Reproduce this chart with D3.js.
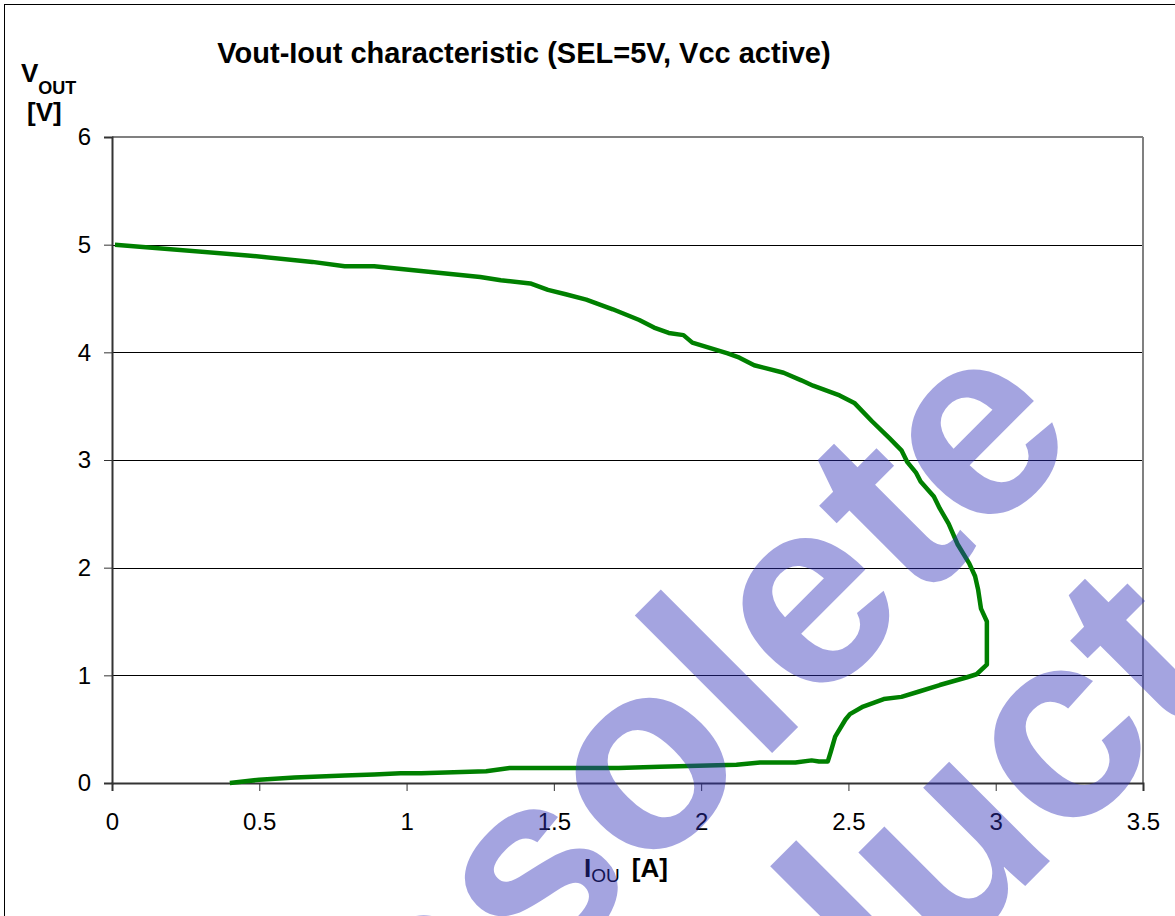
<!DOCTYPE html>
<html>
<head>
<meta charset="utf-8">
<script src="https://cdn.jsdelivr.net/npm/d3@7"></script>
<style>
  body { margin: 0; background: #fff; }
  svg { display: block; font-family: "Liberation Sans", Arial, sans-serif; }
</style>
</head>
<body>
<div class="chart"></div>
<script>
// data: output current [A] and output voltage [V]
var iout = [0.01, 0.46, 0.68, 0.79, 0.89, 1.25, 1.32, 1.42, 1.48, 1.54, 1.61, 1.70, 1.79, 1.84, 1.89, 1.94, 1.97,
    2.09, 2.13, 2.18, 2.28, 2.34, 2.38, 2.47, 2.52, 2.58, 2.64, 2.68, 2.70, 2.73, 2.745, 2.79, 2.81, 2.84, 2.87,
    2.91, 2.93, 2.94, 2.95, 2.97, 2.97, 2.935, 2.90, 2.81, 2.74, 2.68, 2.62, 2.55, 2.505, 2.49, 2.455, 2.44, 2.43,
    2.40, 2.375, 2.32, 2.20, 2.12, 1.86, 1.72, 1.35, 1.27, 1.05, 0.98, 0.89, 0.79, 0.62, 0.50, 0.40];
var vout = [5.00, 4.90, 4.84, 4.80, 4.80, 4.70, 4.67, 4.64, 4.58, 4.54, 4.49, 4.40, 4.30, 4.23, 4.18, 4.16, 4.09,
    3.99, 3.95, 3.88, 3.81, 3.74, 3.69, 3.60, 3.53, 3.36, 3.20, 3.09, 2.98, 2.88, 2.80, 2.66, 2.55, 2.41, 2.22,
    2.04, 1.92, 1.80, 1.62, 1.50, 1.10, 1.01, 0.98, 0.91, 0.85, 0.80, 0.78, 0.71, 0.64, 0.59, 0.43, 0.29, 0.20,
    0.20, 0.21, 0.19, 0.19, 0.17, 0.15, 0.14, 0.14, 0.11, 0.09, 0.09, 0.08, 0.07, 0.05, 0.03, 0.00];

var xTicks = [0, 0.5, 1, 1.5, 2, 2.5, 3, 3.5];
var xTickLabels = ["0", "0.5", "1", "1.5", "2", "2.5", "3", "3.5"];
var yTicks = [0, 1, 2, 3, 4, 5, 6];
var yTickLabels = ["0", "1", "2", "3", "4", "5", "6"];
var gridValues = [1, 2, 3, 4, 5];

var titleText = "Vout-Iout characteristic (SEL=5V, Vcc active)";
var watermarkLines = ["Obsolete", "Product"];

var W = 1175, H = 916;
var margin = { top: 137, right: 32, bottom: 133, left: 112 },
    width = W - margin.left - margin.right,
    height = H - margin.top - margin.bottom;

var svg = d3.select(".chart").append("svg")
    .attr("width", W)
    .attr("height", H);

// outer frame
svg.append("rect")
    .attr("x", 4.5).attr("y", 4.5)
    .attr("width", W + 10).attr("height", H - 3)
    .attr("fill", "#fff")
    .attr("stroke", "#000")
    .attr("stroke-width", 1);

var g = svg.append("g")
    .attr("transform", "translate(" + margin.left + "," + margin.top + ")");

var x = d3.scaleLinear().domain([0, 3.5]).range([0, width]);
var y = d3.scaleLinear().domain([0, 6]).range([height, 0]);

// gridlines
g.selectAll(".grid")
    .data(gridValues)
    .enter().append("line")
    .attr("class", "grid")
    .attr("x1", 0).attr("x2", width)
    .attr("y1", function (d) { return Math.round(y(d)) + 0.5; })
    .attr("y2", function (d) { return Math.round(y(d)) + 0.5; })
    .attr("stroke", "#000")
    .attr("stroke-width", 1);

// gray plot border top / right
g.append("line")
    .attr("x1", 0).attr("x2", width)
    .attr("y1", y(6)).attr("y2", y(6))
    .attr("stroke", "#808080").attr("stroke-width", 2);
g.append("line")
    .attr("x1", width).attr("x2", width)
    .attr("y1", y(6)).attr("y2", y(0))
    .attr("stroke", "#808080").attr("stroke-width", 2);

var xAxis = d3.axisBottom(x)
    .tickValues(xTicks)
    .tickSize(8)
    .tickPadding(22)
    .tickFormat(function (d, i) { return xTickLabels[i]; });

var yAxis = d3.axisLeft(y)
    .tickValues(yTicks)
    .tickSize(8)
    .tickPadding(13)
    .tickFormat(function (d, i) { return yTickLabels[i]; });

var xg = g.append("g")
    .attr("class", "x axis")
    .attr("transform", "translate(0," + height + ")")
    .call(xAxis);

var yg = g.append("g")
    .attr("class", "y axis")
    .call(yAxis);

[xg, yg].forEach(function (ax) {
    ax.select(".domain").attr("stroke", "#333").attr("stroke-width", 2);
    ax.selectAll(".tick line").attr("stroke", "#333").attr("stroke-width", 1);
    ax.selectAll(".tick text")
        .attr("fill", "#000")
        .style("font-size", "24px")
        .style("font-family", "'Liberation Sans', Arial, sans-serif");
});

// the curve
var pts = iout.map(function (d, i) { return [d, vout[i]]; });
var line = d3.line()
    .x(function (d) { return x(d[0]); })
    .y(function (d) { return y(d[1]); });

g.append("path")
    .datum(pts)
    .attr("d", line)
    .attr("fill", "none")
    .attr("stroke", "#008000")
    .attr("stroke-width", 4.5)
    .attr("stroke-linejoin", "round");

// title
svg.append("text")
    .attr("x", 524).attr("y", 63)
    .attr("text-anchor", "middle")
    .style("font-size", "29px")
    .style("font-weight", "bold")
    .text(titleText);

// y label: V_OUT [V]
var yl = svg.append("text")
    .attr("x", 21).attr("y", 82)
    .style("font-weight", "bold")
    .style("font-size", "26px");
yl.append("tspan").text("V");
yl.append("tspan").attr("dy", 12).style("font-size", "18px").text("OUT");
svg.append("text")
    .attr("x", 27).attr("y", 121)
    .style("font-weight", "bold")
    .style("font-size", "26px")
    .text("[V]");

// x label: I_OU [A]
var xl = svg.append("text")
    .attr("x", 584).attr("y", 877)
    .style("font-weight", "bold")
    .style("font-size", "26px");
xl.append("tspan").text("I");
xl.append("tspan").attr("dy", 5).style("font-size", "19px").style("font-weight", "normal").text("OU");
xl.append("tspan").attr("dy", -5).attr("dx", 12).text("[A]");

// watermark
var wm = svg.append("g")
    .attr("transform", "translate(680,845) rotate(-45)")
    .attr("fill", "#2e2eb8")
    .attr("fill-opacity", 0.435)
    .style("font-size", "268px")
    .style("font-weight", "bold");
wm.selectAll("text")
    .data(watermarkLines)
    .enter().append("text")
    .attr("x", 0)
    .attr("y", function (d, i) { return i * 273; })
    .attr("text-anchor", "middle")
    .text(function (d) { return d; });
</script>
</body>
</html>
